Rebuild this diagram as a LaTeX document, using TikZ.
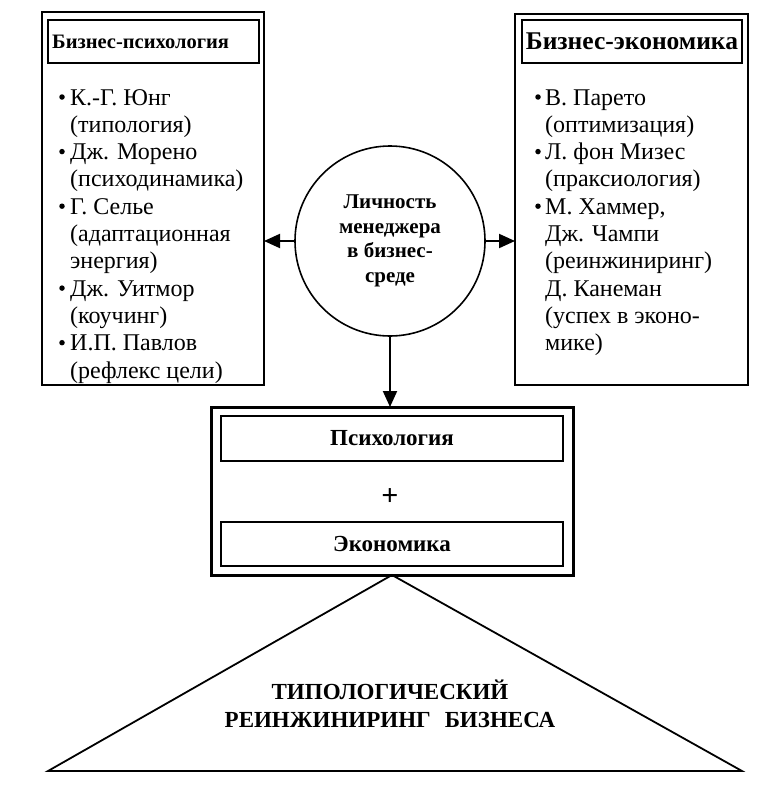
\documentclass[tikz,border=0pt]{standalone}
\usepackage{fontspec}
\setmainfont{Liberation Serif}
\usetikzlibrary{arrows.meta}
\tikzset{
  frame/.style={draw, line width=2pt, inner sep=0pt, outer sep=0pt},
  titlebox/.style={draw, line width=1.8pt, inner sep=0pt, outer sep=0pt},
  item/.style={anchor=base west, inner sep=0pt, font=\fontsize{24}{28}\selectfont},
  dot/.style={circle, fill=black, inner sep=0pt, minimum size=5.5pt},
  arr/.style={line width=2pt, -{Triangle[length=16pt,width=14pt]}},
}
\begin{document}
\begin{tikzpicture}[x=1pt,y=-1pt]
\useasboundingbox (0,0) rectangle (778,800);
% left panel
\node[frame, minimum width=222pt, minimum height=373pt] (lbox) at (153,198.5) {};
\node[titlebox, minimum width=211pt, minimum height=43pt] (ltitle) at (153.5,41.5) {};
\node[anchor=west, inner sep=0pt, font=\fontsize{20.5}{22}\selectfont\bfseries] (lttext) at (52,42) {Бизнес-психология};
\foreach \t [count=\i from 0] in {{К.-Г. Юнг},{(типология)},{Дж. Морено},{(психодинамика)},{Г. Селье},{(адаптационная},{энергия)},{Дж. Уитмор},{(коучинг)},{И.П. Павлов},{(рефлекс цели)}}
  \node[item] (l\i) at (70,{105+27.3*\i}) {\t};
\foreach \i in {0,2,4,7,9}
  \node[dot] (lb\i) at (62,{97+27.3*\i}) {};
% right panel
\node[frame, minimum width=233pt, minimum height=371pt] (rbox) at (631.5,199.5) {};
\node[titlebox, minimum width=220pt, minimum height=43pt] (rtitle) at (632,41.5)
  {\fontsize{25.5}{28}\selectfont\bfseries Бизнес-экономика};
\foreach \t [count=\i from 0] in {{В. Парето},{(оптимизация)},{Л. фон Мизес},{(праксиология)},{М. Хаммер,},{Дж. Чампи},{(реинжиниринг)},{Д. Канеман},{(успех в эконо-},{мике)}}
  \node[item] (r\i) at (545,{105+27.3*\i}) {\t};
\foreach \i in {0,2,4}
  \node[dot] (rb\i) at (538,{97+27.3*\i}) {};
% circle
\node[circle, draw, line width=1.6pt, minimum size=190pt, inner sep=0pt, outer sep=0pt,
  align=center, font=\fontsize{21}{24.5}\selectfont\bfseries] (circ) at (390,241)
  {Личность\\менеджера\\в бизнес-\\среде};
\draw[arr] (circ.west) -- (lbox.east |- circ.west);
\draw[arr] (circ.east) -- (rbox.west |- circ.east);
% bottom block
\node[draw, line width=3pt, inner sep=0pt, outer sep=0pt, minimum width=362pt, minimum height=168pt] (big) at (392,491) {};
\node[titlebox, minimum width=342pt, minimum height=45pt, font=\fontsize{23}{26}\selectfont\bfseries] (psy) at (392,438.5) {Психология};
\node[titlebox, minimum width=342pt, minimum height=44pt, font=\fontsize{23}{26}\selectfont\bfseries] (eco) at (392,544) {Экономика};
\node[font=\fontsize{30}{32}\selectfont\bfseries] (plus) at (390,497) {+};
\draw[arr] (circ.south) -- (circ.south |- big.north);
% triangle
\coordinate (tl) at (48,771);
\coordinate (tr) at (742,771);
\draw[line width=1.8pt, line join=miter] (big.south) -- (tl) -- (tr) -- cycle;
\node[align=center, font=\fontsize{23}{28}\selectfont\bfseries] (tri) at (390,704)
  {ТИПОЛОГИЧЕСКИЙ\\РЕИНЖИНИРИНГ\hspace{14pt}БИЗНЕСА};
\end{tikzpicture}
\end{document}
